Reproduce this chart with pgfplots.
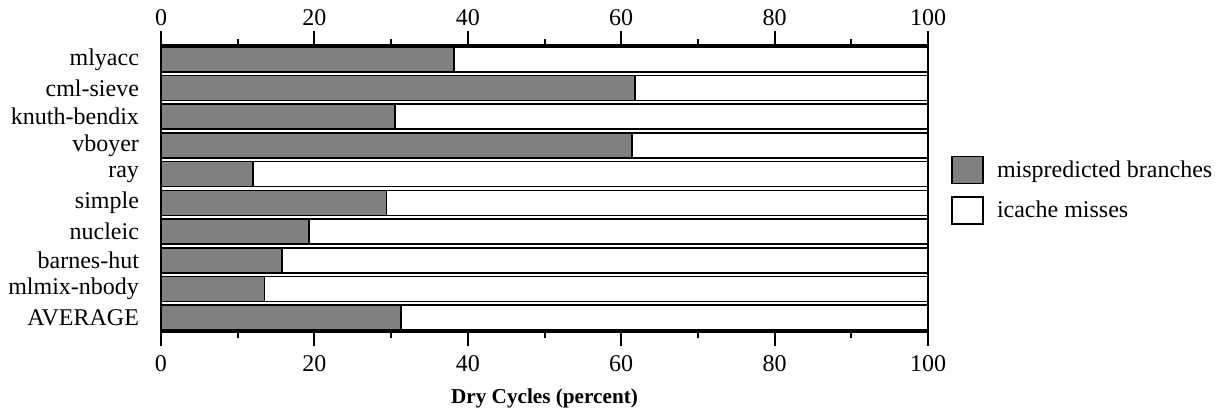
\documentclass[border=0pt]{standalone}
\usepackage{pgfplots}
\pgfplotsset{compat=1.18}
\usepackage{fontspec}
\setmainfont{Liberation Serif}
\definecolor{bargray}{HTML}{808080}
\begin{document}
\begin{tikzpicture}
\pgfplotsset{
  common/.style={
    scale only axis, width=383.5pt, height=143.5pt,
    at={(0,0)}, anchor=south west,
    xmin=0, xmax=100, ymin=-0.5, ymax=9.5,
    xtick={0,20,40,60,80,100},
    minor xtick={10,30,50,70,90},
    tick align=outside,
    axis line style={line width=1pt},
    major tick length=7pt, minor tick length=3pt,
    every tick/.style={black, line width=1pt},
    /pgf/number format/assume math mode=true,
    tick label style={font=\fontsize{12}{14}\selectfont},
  }
}
\begin{axis}[common,
  xbar stacked, bar width=12.5pt,
  ytick={0,...,9},
  yticklabels={AVERAGE,mlmix-nbody,barnes-hut,nucleic,simple,ray,vboyer,knuth-bendix,cml-sieve,mlyacc},
  ytick style={draw=none},
  yticklabel style={xshift=-0.5pt},
  xtick pos=both,
  xticklabel pos=lower,
  xticklabel style={yshift=-1pt},
  xlabel={\textbf{Dry Cycles (percent)}},
  xlabel style={font=\fontsize{10.6}{12}\selectfont, yshift=-2pt},
  legend cell align=left,
  legend style={draw=none, fill=none, at={(1.0,0.615)}, anchor=north west,
    xshift=11.5pt, font=\fontsize{12}{14}\selectfont,
    row sep=6pt, inner sep=0pt,
    /tikz/every even column/.append style={column sep=0pt}},
  legend image code/.code={\draw[#1, line width=0.8pt] (0pt,-6.75pt) rectangle (15.5pt,6.75pt);},
]
\addplot[fill=bargray, draw=black, line width=0.8pt] coordinates {
(31.3,0) (13.5,1) (15.8,2) (19.3,3) (29.4,4) (12.0,5) (61.4,6) (30.5,7) (61.8,8) (38.2,9)};
\addplot[fill=white, draw=black, line width=0.8pt] coordinates {
(68.7,0) (86.5,1) (84.2,2) (80.7,3) (70.6,4) (88.0,5) (38.6,6) (69.5,7) (38.2,8) (61.8,9)};
\legend{\hspace{4.5pt}mispredicted branches,\hspace{4.5pt}icache misses}
\end{axis}
\begin{axis}[common,
  ytick=\empty,
  xtick pos=both,
  xticklabel pos=upper,
  xticklabel style={yshift=-1pt},
]
\addplot[draw=none] coordinates {(0,0) (100,9)};
\end{axis}
\pgfresetboundingbox
\path[use as bounding box] (-80.5pt,-39pt) rectangle (529pt,166pt);
\end{tikzpicture}
\end{document}
